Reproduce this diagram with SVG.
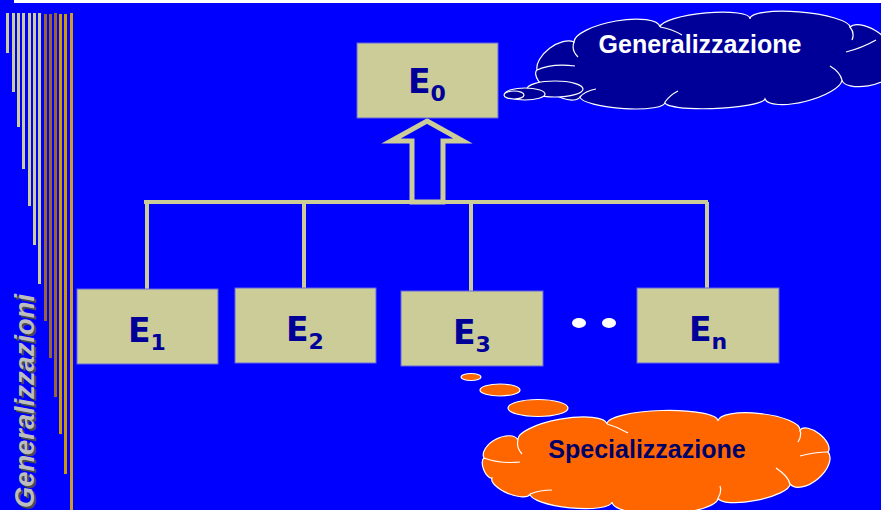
<svg xmlns="http://www.w3.org/2000/svg" width="881" height="510" viewBox="0 0 881 510">
  <style>
    .box { fill: #CCCC99; stroke: #6666DD; stroke-width: 1; }
    .lbl { font-family: "Comic Sans MS", "DejaVu Sans", sans-serif; font-weight: bold; font-size: 33px; fill: #000099; text-anchor: middle; }
    .sub { font-size: 22px; }
    .link { stroke: #CCCC99; stroke-width: 4; fill: none; }
    .bar-k { fill: #CCCC99; }
    .bar-b { fill: #996633; }
    .bar-g { fill: #CC9900; }
    .cloudtxt { font-family: "Liberation Sans", Arial, sans-serif; font-weight: bold; font-size: 25px; }
    .crease { fill: none; stroke: #FFFFFF; stroke-width: 1.2; }
  </style>

  <!-- background -->
  <rect x="0" y="0" width="881" height="510" fill="#0000FF"/>
  <rect x="14" y="0" width="867" height="3" fill="#FFFFFF"/>

  <!-- decorative vertical bars -->
  <g id="bars">
    <rect class="bar-k" x="6" y="13" width="3" height="40"/>
    <rect class="bar-k" x="12" y="13" width="3" height="79"/>
    <rect class="bar-k" x="17" y="13" width="3" height="114"/>
    <rect class="bar-k" x="22" y="13" width="3" height="156"/>
    <rect class="bar-k" x="28" y="13" width="3" height="193"/>
    <rect class="bar-k" x="33" y="13" width="3" height="232"/>
    <rect class="bar-k" x="38" y="13" width="3" height="271"/>
    <rect class="bar-b" x="44" y="14" width="3" height="307"/>
    <rect class="bar-b" x="49" y="14" width="3" height="344"/>
    <rect class="bar-b" x="54" y="13" width="3" height="384"/>
    <rect class="bar-g" x="59" y="14" width="3" height="420"/>
    <rect class="bar-g" x="64" y="14" width="3" height="460"/>
    <rect x="70" y="13" width="3" height="497" fill="#CC9933"/>
  </g>

  <!-- vertical title with drop shadow -->
  <g id="title" font-family="Liberation Sans, Arial, sans-serif" font-size="28" font-style="italic" font-weight="bold">
    <text transform="translate(36,510) rotate(-90)" textLength="214" lengthAdjust="spacingAndGlyphs" fill="#4A4A4A">Generalizzazioni</text>
    <text transform="translate(34,508) rotate(-90)" textLength="214" lengthAdjust="spacingAndGlyphs" fill="#BDBDBD">Generalizzazioni</text>
  </g>

  <!-- connectors -->
  <g id="connectors">
    <line class="link" x1="144" y1="202" x2="708" y2="202"/>
    <line class="link" x1="147" y1="202" x2="147" y2="289"/>
    <line class="link" x1="304" y1="202" x2="304" y2="288"/>
    <line class="link" x1="471" y1="202" x2="471" y2="291"/>
    <line class="link" x1="707" y1="202" x2="707" y2="288"/>
    <polygon points="427,121 463,141 443,141 443,202 412,202 412,141 391,141" fill="#0000FF" stroke="#CCCC99" stroke-width="5" stroke-linejoin="miter"/>
  </g>

  <!-- entities -->
  <g id="e0">
    <rect class="box" x="357" y="43" width="141" height="75"/>
    <text class="lbl" x="427" y="93">E<tspan class="sub" dy="8">0</tspan></text>
  </g>
  <g id="e1">
    <rect class="box" x="77" y="289" width="141" height="75"/>
    <text class="lbl" x="147" y="342">E<tspan class="sub" dy="8">1</tspan></text>
  </g>
  <g id="e2">
    <rect class="box" x="235" y="288" width="141" height="75"/>
    <text class="lbl" x="305" y="341">E<tspan class="sub" dy="8">2</tspan></text>
  </g>
  <g id="e3">
    <rect class="box" x="401" y="291" width="142" height="75"/>
    <text class="lbl" x="472" y="344">E<tspan class="sub" dy="8">3</tspan></text>
  </g>
  <g id="en">
    <rect class="box" x="637" y="288" width="142" height="75"/>
    <text class="lbl" x="708" y="341">E<tspan class="sub" dy="8">n</tspan></text>
  </g>

  <!-- ellipsis dots -->
  <g id="dots" fill="#FFFFFF">
    <ellipse cx="579" cy="323" rx="7" ry="5"/>
    <ellipse cx="609" cy="323" rx="7" ry="5"/>
  </g>

  <!-- generalization callout -->
  <g id="cloud-gen" stroke="#FFFFFF" stroke-width="1.2">
    <path fill="#000099" d="M537,70 A24,13 -37 0 1 574,42 A43.7,14 -10.5 0 1 660,27 A45.2,10 -5.7 0 1 750,19 A50.2,11 5.1 0 1 850,27 A24.3,12 32.4 0 1 891,52 L891,72 A24.8,10 170.7 0 1 842,80 A39.8,13 165.4 0 1 765,99 A50,8 177.7 0 1 665,102 A42.6,9 184 0 1 580,97 A17.1,8 200.6 0 1 548,86 A9.7,5 235.5 0 1 537,70 Z"/>
    <path class="crease" d="M537,70 Q552,63 575,66 M574,42 Q571,50 578,57 M660,27 Q672,29 682,35 M850,27 Q855,33 852,40 M846,52 Q862,48 876,40 M842,80 Q840,72 830,66 M665,102 Q670,95 678,91 M580,97 Q585,91 596,89"/>
    <ellipse cx="555" cy="89" rx="28" ry="8" fill="#000099"/>
    <ellipse cx="525" cy="94" rx="20" ry="6" fill="#000099"/>
    <ellipse cx="514" cy="95" rx="10" ry="4" fill="#000099"/>
    <text class="cloudtxt" x="700" y="53" text-anchor="middle" fill="#FFFFFF" stroke="none">Generalizzazione</text>
  </g>

  <!-- specialization callout -->
  <g id="cloud-spec" stroke="#FFFFFF" stroke-width="1.2">
    <ellipse cx="471" cy="377" rx="10" ry="3.5" fill="#FF6600"/>
    <ellipse cx="500" cy="390" rx="20" ry="6" fill="#FF6600"/>
    <ellipse cx="538" cy="408" rx="30" ry="8.5" fill="#FF6600"/>
    <path fill="#FF6600" d="M484,458 A19.2,11 -27.9 0 1 518,440 A45.2,13 -10.2 0 1 607,424 A55.5,12 -1.5 0 1 718,421 A41.2,12 6.3 0 1 800,430 A17.8,9 38.2 0 1 828,452 A24.8,14 139.9 0 1 790,484 A36.7,10 169 0 1 718,498 A53,14 177.8 0 1 612,502 A41.2,10 185.6 0 1 530,494 A20.6,8 202.8 0 1 492,478 A10.8,5 248.2 0 1 484,458 Z"/>
    <path class="crease" d="M484,458 Q500,464 520,462 M518,440 Q516,447 522,454 M607,424 Q618,427 628,433 M800,430 Q802,436 798,442 M828,452 Q815,452 800,456 M790,484 Q788,476 776,468 M718,498 Q722,492 720,486 M530,494 Q540,490 552,490"/>
    <text class="cloudtxt" x="647" y="458" text-anchor="middle" fill="#000066" stroke="none">Specializzazione</text>
  </g>
</svg>
